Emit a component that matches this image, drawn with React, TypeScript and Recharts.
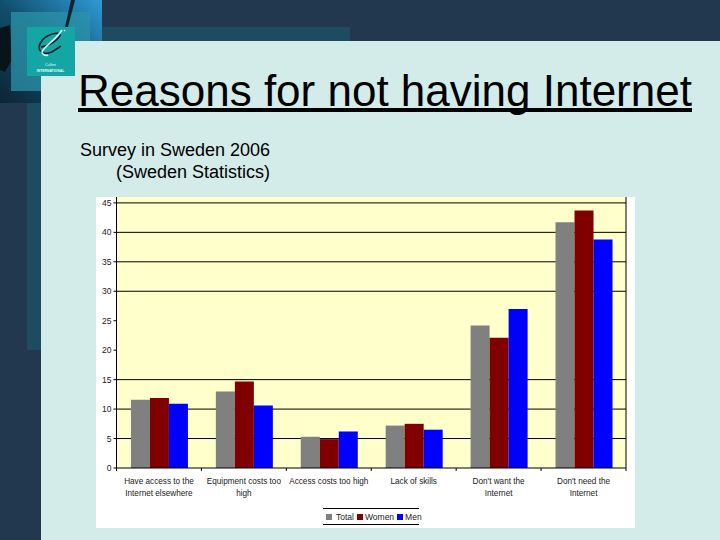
import React from 'react';
import { BarChart, Bar, XAxis, YAxis, CartesianGrid, Legend } from 'recharts';

const categories = [
  ['Have access to the', 'Internet elsewhere'],
  ['Equipment costs too', 'high'],
  ['Access costs too high'],
  ['Lack of skills'],
  ["Don't want the", 'Internet'],
  ["Don't need the", 'Internet'],
];
const total = [11.6, 13, 5.3, 7.2, 24.2, 41.7];
const women = [11.9, 14.7, 4.9, 7.5, 22.1, 43.7];
const men = [10.9, 10.6, 6.2, 6.5, 27, 38.8];
const yTicks = [0, 5, 10, 15, 20, 25, 30, 35, 40, 45];
// the 20 and 25 lines are missing in the original
const gridValues = [5, 10, 15, 30, 35, 40, 45];

const data = categories.map((lines, i) => ({
  name: lines.join(' '),
  Total: total[i],
  Women: women[i],
  Men: men[i],
}));

const FONT = '"Liberation Sans", Arial, sans-serif';
const BAND = 509.5 / 6;

const CategoryTick = ({ x, y, index }: any) => (
  <g>
    <line x1={x - BAND / 2} x2={x - BAND / 2} y1={y - 8} y2={y - 5} stroke="#000" />
    {index === categories.length - 1 && (
      <line x1={x + BAND / 2} x2={x + BAND / 2} y1={y - 8} y2={y - 5} stroke="#000" />
    )}
    <text x={x} y={y + 8} textAnchor="middle" fontSize={8.2} fontFamily={FONT} fill="#222">
      {categories[index].map((line, i) => (
        <tspan key={i} x={x} dy={i === 0 ? 0 : 11.5}>{line}</tspan>
      ))}
    </text>
  </g>
);

const legendGaps: Record<string, number> = { Total: 4, Women: 2, Men: 2 };

const ChartLegend = ({ payload }: any) => (
  <div style={{ display: 'flex', alignItems: 'center', height: 15, paddingLeft: 3, fontSize: 8.5, fontFamily: FONT, color: '#222', whiteSpace: 'nowrap' }}>
    {(payload || []).map((item: any) => (
      <span key={item.value} style={{ display: 'flex', alignItems: 'center', marginRight: 3 }}>
        <span style={{ width: 6, height: 6, background: item.color, marginRight: legendGaps[item.value] }} />
        {item.value}
      </span>
    ))}
  </div>
);

const App = () => (
  <div style={{ position: 'fixed', left: 0, top: 0, width: 720, height: 540, overflow: 'hidden', background: '#22384f', fontFamily: FONT }}>
    {/* slide background and logo photo */}
    <div style={{ position: 'absolute', left: 27, top: 27, width: 323, height: 323, background: '#1f4b60' }} />
    <svg style={{ position: 'absolute', left: 0, top: 0 }} width={102} height={103}>
      <defs>
        <linearGradient id="photo" x1="0" y1="1" x2="1" y2="0">
          <stop offset="0" stopColor="#0d2433" />
          <stop offset="0.5" stopColor="#10506f" />
          <stop offset="1" stopColor="#2f9ad6" />
        </linearGradient>
      </defs>
      <rect width={102} height={103} fill="url(#photo)" />
      <path d="M0 28 L10 25 L12 60 L5 72 L0 70 Z" fill="#07141c" />
      <rect x={11} y={12} width={79} height={79} fill="#2b93a8" fillOpacity={0.75} />
      <path d="M75 0 L71 0 L65 27 L68 27 Z" fill="#12242e" />
    </svg>
    <div style={{ position: 'absolute', left: 41, top: 41, width: 679, height: 499, background: '#d3ebe9' }} />
    <svg style={{ position: 'absolute', left: 0, top: 0 }} width={102} height={103}>
      <rect x={27} y={27} width={48} height={49} fill="#14a5a5" />
      <path d="M41 47 C50 46 60 38 60 35 C60 31 46 34 41 42 C36 50 42 56 52 52 L61 46" fill="none" stroke="#0a1f28" strokeWidth={1.6} />
      <path d="M62 30 C56 40 44 46 42 52 C42 55 46 56 48 55" fill="none" stroke="#d8f4ee" strokeWidth={1.6} />
      <circle cx={64.5} cy={30.5} r={0.8} fill="#d8f4ee" />
      <text x={50.5} y={66} textAnchor="middle" fontSize={3.8} fill="#e6fbf8" fontFamily={FONT}>Cullen</text>
      <text x={50.5} y={72} textAnchor="middle" fontSize={3.4} fontWeight="bold" fill="#e6fbf8" fontFamily={FONT}>INTERNATIONAL</text>
    </svg>

    {/* slide title */}
    <div style={{ position: 'absolute', left: 78, top: 67, fontSize: 44, lineHeight: '48px', color: '#000', whiteSpace: 'nowrap', borderBottom: '4px solid #000', height: 41 }}>
      Reasons for not having Internet
    </div>
    <div style={{ position: 'absolute', left: 80, top: 139, fontSize: 18, lineHeight: '22px', color: '#000', whiteSpace: 'nowrap' }}>
      Survey in Sweden 2006
    </div>
    <div style={{ position: 'absolute', left: 116, top: 161, fontSize: 18, lineHeight: '22px', color: '#000', whiteSpace: 'nowrap' }}>
      (Sweden Statistics)
    </div>

    {/* chart */}
    <div style={{ position: 'absolute', left: 96, top: 197, width: 539, height: 331, background: '#fff' }}>
      <BarChart
        width={539}
        height={331}
        data={data}
        margin={{ top: 0, right: 0, bottom: 0, left: 0 }}
        barCategoryGap="17%"
        barGap={0}
      >
        <CartesianGrid
          fill="#ffffcc"
          vertical={false}
          stroke="#000"
          horizontalValues={gridValues}
          yAxisId="left"
        />
        <XAxis
          dataKey="name"
          height={60}
          interval={0}
          tick={<CategoryTick />}
          tickLine={false}
          axisLine={{ stroke: '#000' }}
        />
        <YAxis
          yAxisId="left"
          width={20.5}
          domain={[0, 46]}
          ticks={yTicks}
          interval={0}
          tick={{ fontSize: 8.5, fontFamily: FONT, fill: '#222' }}
          tickSize={3}
          tickLine={{ stroke: '#000' }}
          axisLine={{ stroke: '#000' }}
        />
        <YAxis
          yAxisId="right"
          orientation="right"
          width={9}
          domain={[0, 46]}
          tick={false}
          tickLine={false}
          axisLine={{ stroke: '#000' }}
        />
        <Legend
          layout="horizontal"
          verticalAlign="middle"
          itemSorter={null}
          content={<ChartLegend />}
          wrapperStyle={{
            position: 'absolute',
            left: 227,
            top: 311,
            bottom: 'auto',
            width: 96,
            height: 15,
            borderTop: '1px solid #000',
            borderBottom: '1px solid #000',
          }}
        />
        <Bar yAxisId="left" dataKey="Total" fill="#808080" isAnimationActive={false} />
        <Bar yAxisId="left" dataKey="Women" fill="#800000" isAnimationActive={false} />
        <Bar yAxisId="left" dataKey="Men" fill="#0000ff" isAnimationActive={false} />
      </BarChart>
    </div>
  </div>
);

export default App;
